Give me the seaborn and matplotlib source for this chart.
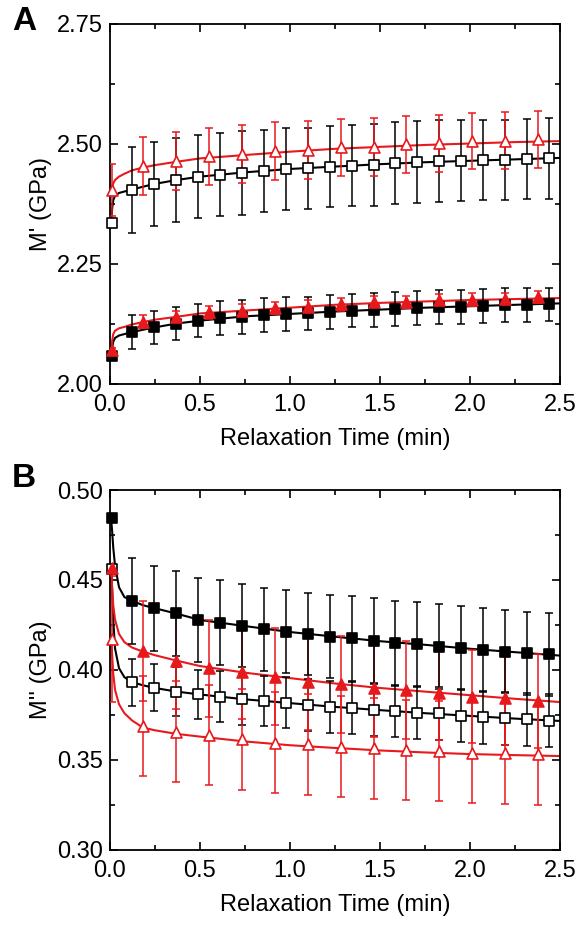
import numpy as np
import pandas as pd
import matplotlib
matplotlib.use("Agg")
import matplotlib.pyplot as plt
import seaborn as sns
from matplotlib.ticker import MultipleLocator

# time points (min) of the measured data
t_sq = [0.013, 0.122, 0.244, 0.366, 0.488, 0.610, 0.732, 0.854, 0.976, 1.098, 1.220,
        1.342, 1.464, 1.586, 1.708, 1.830, 1.952, 2.074, 2.196, 2.318, 2.440]
t_tri = [0.013, 0.183, 0.366, 0.549, 0.732, 0.915, 1.098, 1.281, 1.464, 1.647, 1.830,
         2.013, 2.196, 2.379]
# time grid of the fitted curves
t_fit = [0.006, 0.012, 0.018, 0.028, 0.05, 0.08, 0.122, 0.183, 0.25, 0.37, 0.5, 0.75,
         1.0, 1.25, 1.5, 1.75, 2.0, 2.25, 2.5]

# panel A : M' (GPa)
A_open_sq = [2.335, 2.404, 2.417, 2.425, 2.432, 2.436, 2.440, 2.444, 2.448, 2.449, 2.453,
             2.455, 2.456, 2.460, 2.462, 2.464, 2.465, 2.467, 2.467, 2.469, 2.470]
A_open_sq_err = [0.0, 0.090, 0.088, 0.088, 0.087, 0.087, 0.087, 0.086, 0.086, 0.085, 0.085,
                 0.085, 0.085, 0.085, 0.085, 0.085, 0.084, 0.084, 0.084, 0.084, 0.084]
A_open_tri = [2.404, 2.454, 2.465, 2.474, 2.479, 2.486, 2.4875, 2.493, 2.494, 2.499, 2.5015,
              2.506, 2.507, 2.510]
A_open_tri_err = [0.054, 0.060, 0.060, 0.060, 0.060, 0.060, 0.060, 0.060, 0.060, 0.060,
                  0.059, 0.059, 0.059, 0.059]
A_fill_sq = [2.058, 2.108, 2.118, 2.126, 2.132, 2.137, 2.140, 2.144, 2.146, 2.147, 2.150,
             2.153, 2.154, 2.156, 2.158, 2.160, 2.161, 2.163, 2.164, 2.165, 2.166]
A_fill_sq_err = [0.004, 0.035, 0.035, 0.035, 0.035, 0.035, 0.035, 0.035, 0.035, 0.035, 0.035,
                 0.035, 0.035, 0.035, 0.035, 0.035, 0.035, 0.035, 0.035, 0.035, 0.035]
A_fill_tri = [2.071, 2.130, 2.140, 2.149, 2.153, 2.158, 2.161, 2.166, 2.170, 2.171, 2.174,
              2.176, 2.177, 2.181]
A_fill_tri_err = [0.004, 0.013, 0.013, 0.013, 0.013, 0.013, 0.013, 0.013, 0.013, 0.013,
                  0.013, 0.013, 0.013, 0.013]
A_open_sq_fit = [2.335, 2.365, 2.383, 2.392, 2.398, 2.401, 2.405, 2.411, 2.417, 2.425, 2.432,
                 2.441, 2.448, 2.453, 2.458, 2.462, 2.465, 2.468, 2.471]
A_open_tri_fit = [2.404, 2.410, 2.418, 2.425, 2.432, 2.438, 2.445, 2.451, 2.456, 2.463, 2.470,
                  2.477, 2.484, 2.490, 2.494, 2.498, 2.501, 2.504, 2.506]
A_fill_sq_fit = [2.058, 2.075, 2.088, 2.096, 2.101, 2.104, 2.108, 2.113, 2.118, 2.126, 2.132,
                 2.141, 2.146, 2.151, 2.155, 2.159, 2.162, 2.165, 2.168]
A_fill_tri_fit = [2.071, 2.090, 2.104, 2.111, 2.116, 2.119, 2.124, 2.129, 2.134, 2.140, 2.147,
                  2.153, 2.159, 2.165, 2.169, 2.172, 2.175, 2.177, 2.179]

# panel B : M'' (GPa)
B_fill_sq = [0.4843, 0.4383, 0.4343, 0.4315, 0.4278, 0.4263, 0.4246, 0.4226, 0.4213, 0.4200,
             0.4185, 0.4176, 0.4163, 0.4148, 0.4143, 0.4130, 0.4120, 0.4111, 0.4102, 0.4093,
             0.4087]
B_fill_sq_err = [0.002, 0.0237, 0.0235, 0.0235, 0.0235, 0.0235, 0.0232, 0.0232, 0.023, 0.023,
                 0.0232, 0.0235, 0.0235, 0.0235, 0.0235, 0.0235, 0.0233, 0.0233, 0.0232,
                 0.0232, 0.0231]
B_fill_tri = [0.4565, 0.4106, 0.4052, 0.4010, 0.3987, 0.3963, 0.3935, 0.3920, 0.3898, 0.3889,
              0.3870, 0.3852, 0.3843, 0.3828]
B_fill_tri_err = [0.002, 0.028, 0.027, 0.027, 0.026, 0.027, 0.027, 0.027, 0.027, 0.027,
                  0.026, 0.026, 0.026, 0.026]
B_open_sq = [0.456, 0.3931, 0.3902, 0.3880, 0.3865, 0.3852, 0.3837, 0.3828, 0.3819, 0.3806,
             0.3796, 0.3787, 0.3778, 0.3774, 0.3763, 0.3759, 0.3746, 0.3737, 0.3731, 0.3726,
             0.3718]
B_open_sq_err = [0.002, 0.013, 0.013, 0.0135, 0.0135, 0.014, 0.014, 0.014, 0.014, 0.0144,
                 0.0144, 0.0145, 0.0145, 0.0145, 0.0146, 0.0146, 0.0147, 0.0147, 0.0148,
                 0.0148, 0.0148]
B_open_tri = [0.417, 0.3689, 0.3657, 0.3639, 0.3615, 0.3596, 0.3587, 0.3574, 0.3565, 0.3556,
              0.3550, 0.3541, 0.3537, 0.3532]
B_open_tri_err = [0.035, 0.028, 0.028, 0.028, 0.028, 0.028, 0.028, 0.028, 0.028, 0.028,
                  0.028, 0.028, 0.028, 0.028]
B_fill_sq_fit = [0.484, 0.477, 0.468, 0.458, 0.446, 0.4405, 0.4385, 0.436, 0.4343, 0.4313,
                 0.4278, 0.4244, 0.4211, 0.4185, 0.4160, 0.4140, 0.4118, 0.4099, 0.4080]
B_fill_tri_fit = [0.4565, 0.445, 0.436, 0.428, 0.420, 0.4155, 0.4125, 0.4102, 0.4082, 0.4052,
                  0.4022, 0.3985, 0.3955, 0.3925, 0.3900, 0.3880, 0.3860, 0.3840, 0.3822]
B_open_sq_fit = [0.456, 0.445, 0.428, 0.412, 0.401, 0.396, 0.3933, 0.3915, 0.3900, 0.3880,
                 0.3864, 0.3837, 0.3816, 0.3795, 0.3777, 0.3760, 0.3745, 0.3730, 0.3717]
B_open_tri_fit = [0.417, 0.408, 0.398, 0.389, 0.381, 0.376, 0.3720, 0.3680, 0.3665, 0.3645,
                  0.3630, 0.3603, 0.3582, 0.3567, 0.3553, 0.3542, 0.3533, 0.3527, 0.3522]

RED = "#e8191c"
BLK = "black"

sns.set_theme(style="ticks")
plt.rcParams["font.family"] = ["Liberation Sans", "DejaVu Sans"]
plt.rcParams["text.color"] = "black"
plt.rcParams["axes.labelcolor"] = "black"
plt.rcParams["xtick.color"] = "black"
plt.rcParams["ytick.color"] = "black"
plt.rcParams["xtick.direction"] = "in"
plt.rcParams["ytick.direction"] = "in"

fig = plt.figure(figsize=(5.76, 9.25), dpi=100)
W, H = 576, 925
axA = fig.add_axes([110 / W, 1 - 384 / H, 450 / W, 360 / H])
axB = fig.add_axes([110 / W, 1 - 850 / H, 450 / W, 360 / H])


def draw(ax, t, y, err, fit, color, marker, filled):
    sns.lineplot(x=t_fit, y=fit, ax=ax, color=color, lw=1.5, zorder=2)
    ax.errorbar(t, y, yerr=err, fmt="none", ecolor=color, elinewidth=1.1,
                capsize=2.6, capthick=1.1, zorder=3)
    size = 62 if marker == "^" else 52
    sns.scatterplot(x=t, y=y, ax=ax, marker=marker, s=size,
                    color=color if filled else "white", edgecolor=color,
                    linewidth=1.2, zorder=4, clip_on=False)


draw(axA, t_sq, A_open_sq, A_open_sq_err, A_open_sq_fit, BLK, "s", False)
draw(axA, t_sq, A_fill_sq, A_fill_sq_err, A_fill_sq_fit, BLK, "s", True)
draw(axA, t_tri, A_open_tri, A_open_tri_err, A_open_tri_fit, RED, "^", False)
draw(axA, t_tri, A_fill_tri, A_fill_tri_err, A_fill_tri_fit, RED, "^", True)

draw(axB, t_sq, B_open_sq, B_open_sq_err, B_open_sq_fit, BLK, "s", False)
draw(axB, t_tri, B_open_tri, B_open_tri_err, B_open_tri_fit, RED, "^", False)
draw(axB, t_tri, B_fill_tri, B_fill_tri_err, B_fill_tri_fit, RED, "^", True)
draw(axB, t_sq, B_fill_sq, B_fill_sq_err, B_fill_sq_fit, BLK, "s", True)

for ax, ylim, ymaj, ymin, ylab in [
        (axA, (2.0, 2.75), 0.25, 0.125, "M' (GPa)"),
        (axB, (0.30, 0.50), 0.05, 0.025, "M'' (GPa)")]:
    ax.set_xlim(0, 2.5)
    ax.set_ylim(*ylim)
    ax.xaxis.set_major_locator(MultipleLocator(0.5))
    ax.xaxis.set_minor_locator(MultipleLocator(0.25))
    ax.yaxis.set_major_locator(MultipleLocator(ymaj))
    ax.yaxis.set_minor_locator(MultipleLocator(ymin))
    ax.yaxis.set_major_formatter(matplotlib.ticker.FuncFormatter(lambda v, p: "{:.2f}".format(v)))
    ax.tick_params(which="both", direction="in", top=True, right=True,
                   labelsize=17, width=1.2, colors="black")
    ax.tick_params(which="major", length=6)
    ax.tick_params(which="minor", length=3.5)
    ax.tick_params(axis="x", pad=7)
    ax.tick_params(axis="y", pad=5)
    for s in ax.spines.values():
        s.set_visible(True)
        s.set_linewidth(1.3)
        s.set_color("black")
    ax.set_xlabel("Relaxation Time (min)", fontsize=17, labelpad=9, color="black")
    ax.set_ylabel(ylab, fontsize=17, labelpad=4, color="black")

fig.text(12 / W, 1 - 6 / H, "A", fontsize=24, fontweight="bold", va="top", ha="left",
         color="black")
fig.text(12 / W, 1 - 463 / H, "B", fontsize=24, fontweight="bold", va="top", ha="left",
         color="black")

fig.savefig("out.png", dpi=100)
